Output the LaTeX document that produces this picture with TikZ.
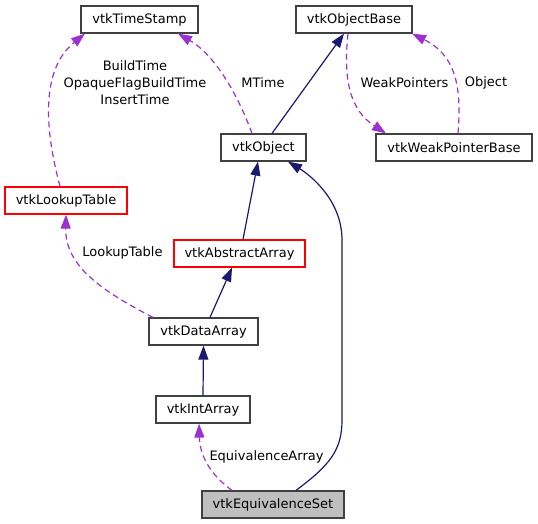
\documentclass[tikz,border=0pt]{standalone}
\usepackage{fontspec}
\setmainfont{DejaVu Sans}
\usetikzlibrary{arrows.meta}
\definecolor{edgeblue}{HTML}{191970}
\definecolor{edgepurple}{HTML}{9A32CD}
\definecolor{boxgray}{HTML}{404040}
\tikzstyle{box} = [rectangle, minimum height=27pt, inner sep=0pt, draw=boxgray, line width=1.2pt, font=\fontsize{13}{17}\selectfont]
\tikzstyle{redbox} = [box, draw=red]
\tikzstyle{lbl} = [inner sep=0pt, align=center, font=\fontsize{13}{17}\selectfont]
\tikzstyle{arrow} = [line width=1.2pt, draw=edgeblue, -{Triangle[length=14pt,width=10pt]}]
\tikzstyle{usage} = [line width=1.2pt, draw=edgepurple, dash pattern=on 6pt off 4pt, -{Triangle[length=14pt,width=10pt]}]

\begin{document}
\begin{tikzpicture}[x=1pt, y=-1pt]
    \useasboundingbox (0,0) rectangle (538,524);
    \node (TimeStamp) [box, minimum width=117pt] at (139.5,19.5) {vtkTimeStamp};
    \node (ObjectBase) [box, minimum width=116pt] at (354,19.5) {vtkObjectBase};
    \node (Object) [box, minimum width=85pt] at (263.5,147.5) {vtkObject};
    \node (WeakPointer) [box, minimum width=156pt] at (454,147.5) {vtkWeakPointerBase};
    \node (LookupTable) [redbox, minimum width=122pt] at (66,200.5) {vtkLookupTable};
    \node (AbstractArray) [redbox, minimum width=131pt] at (239.5,253.5) {vtkAbstractArray};
    \node (DataArray) [box, minimum width=109pt] at (203.5,331.5) {vtkDataArray};
    \node (IntArray) [box, minimum width=94pt] at (203,409.5) {vtkIntArray};
    \node (EquivSet) [box, minimum width=142pt, fill=black!25] at (273,504.5) {vtkEquivalenceSet};

    \node (l1) [lbl] at (135,83) {BuildTime\\OpaqueFlagBuildTime\\InsertTime};
    \node (l2) [lbl] at (263,83) {MTime};
    \node (l3) [lbl] at (404.5,83) {WeakPointers};
    \node (l4) [lbl] at (486,83) {Object};
    \node (l5) [lbl] at (122.5,253) {LookupTable};
    \node (l6) [lbl] at (266.5,457) {EquivalenceArray};

    \draw[arrow] ([xshift=8.5pt]Object.north) -- ([xshift=-10pt]ObjectBase.south);
    \draw[arrow] ([xshift=3.5pt]AbstractArray.north) -- ([xshift=-5.5pt]Object.south);
    \draw[arrow] ([xshift=6.5pt]DataArray.north) -- ([xshift=-7.5pt]AbstractArray.south);
    \draw[arrow] (IntArray.north) -- (DataArray.south);
    \draw[arrow] ([xshift=23pt]EquivSet.north) .. controls (330,465) and (342,450) .. (342,420)
        -- (342,240) .. controls (342,200) and (310,175) .. ([xshift=24.5pt]Object.south);

    \draw[usage] ([xshift=-11.5pt]Object.north) .. controls (238,95) and (215,55) .. ([xshift=38.5pt]TimeStamp.south);
    \draw[usage] ([xshift=-6pt]LookupTable.north) .. controls (45,130) and (40,70) .. ([xshift=-54.5pt]TimeStamp.south);
    \draw[usage] ([xshift=-6pt]ObjectBase.south) .. controls (343,80) and (350,110) .. ([xshift=-68pt]WeakPointer.north);
    \draw[usage] ([xshift=4pt]WeakPointer.north) .. controls (462,85) and (455,55) .. ([xshift=58pt]ObjectBase.south);
    \draw[usage] ([xshift=-50.5pt]DataArray.north) .. controls (100,290) and (65,265) .. (LookupTable.south);
    \draw[usage] ([xshift=-41pt]EquivSet.north) .. controls (215,478) and (200,460) .. ([xshift=-4pt]IntArray.south);
  \end{tikzpicture}
\end{document}
